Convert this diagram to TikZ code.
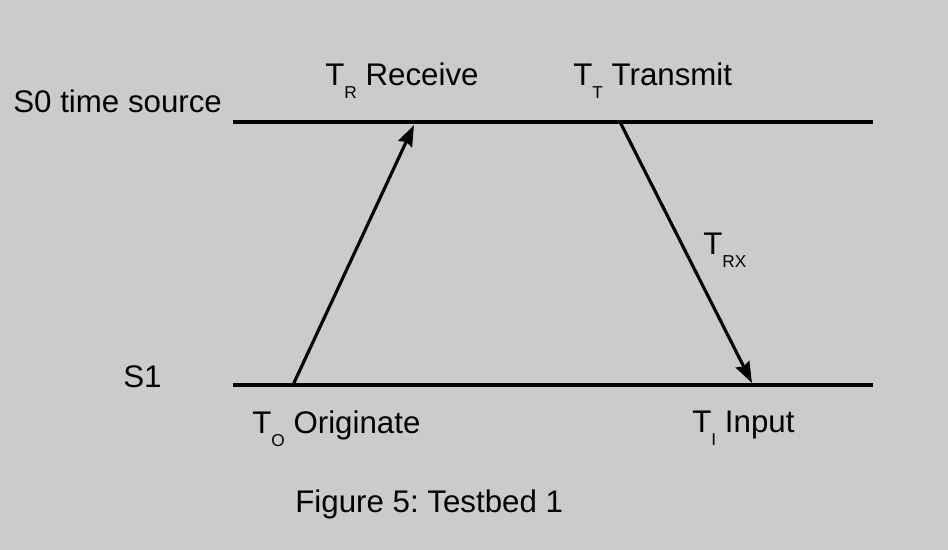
\documentclass[tikz,border=0pt]{standalone}
\usepackage{fontspec}
\setmainfont{Liberation Sans}
\usepackage{tikz}
\usetikzlibrary{arrows.meta,shapes}
\frenchspacing
\definecolor{paper}{RGB}{203,203,203}
\tikzset{lbl/.style={anchor=base west,inner sep=0pt,font=\fontsize{17.8}{21}\selectfont}}
\tikzstyle{timeline} = [draw,line width=1.9pt]
\tikzstyle{msg} = [draw,line width=1.8pt,-{Stealth[length=0.42cm,width=0.3cm,inset=0.05cm]}]
\newcommand{\lowsub}[1]{\raisebox{-0.25cm}{\fontsize{9.8}{11}\selectfont #1}}

\begin{document}
\begin{tikzpicture}[x=0.02cm,y=-0.02cm]
    % Background
    \fill[paper] (0,0) rectangle (948,550);
    \useasboundingbox (0,0) rectangle (948,550);
    % End points of the time lines and messages
    \coordinate (S0a) at (233,122);
    \coordinate (S0b) at (873,122);
    \coordinate (S1a) at (233,385);
    \coordinate (S1b) at (873,385);
    \coordinate (TO) at (293,385);
    \coordinate (TR) at (414,125);
    \coordinate (TT) at (620,122);
    \coordinate (TI) at (752,383);
    % Labels
    \node[lbl] (srcLbl) at (13,113) {S0 time source};
    \node[lbl] (clientLbl) at (123,388) {S1};
    \node[lbl] (recvLbl) at (325,86) {T\lowsub{R} Receive};
    \node[lbl] (transLbl) at (573,86) {T\lowsub{T} Transmit};
    \node[lbl] (trxLbl) at (703,255) {T\lowsub{RX}};
    \node[lbl] (origLbl) at (252,434) {T\lowsub{O} Originate};
    \node[lbl] (inputLbl) at (692,433) {T\lowsub{I} Input};
    \node[lbl] (caption) at (295,513) {Figure 5: Testbed 1};
    % Time lines and messages
    \foreach \source/ \dest in {S0a/S0b, S1a/S1b}
        \path[timeline] (\source) -- (\dest);
    \foreach \source/ \dest in {TO/TR, TT/TI}
        \path[msg] (\source) -- (\dest);
\end{tikzpicture}
\end{document}
